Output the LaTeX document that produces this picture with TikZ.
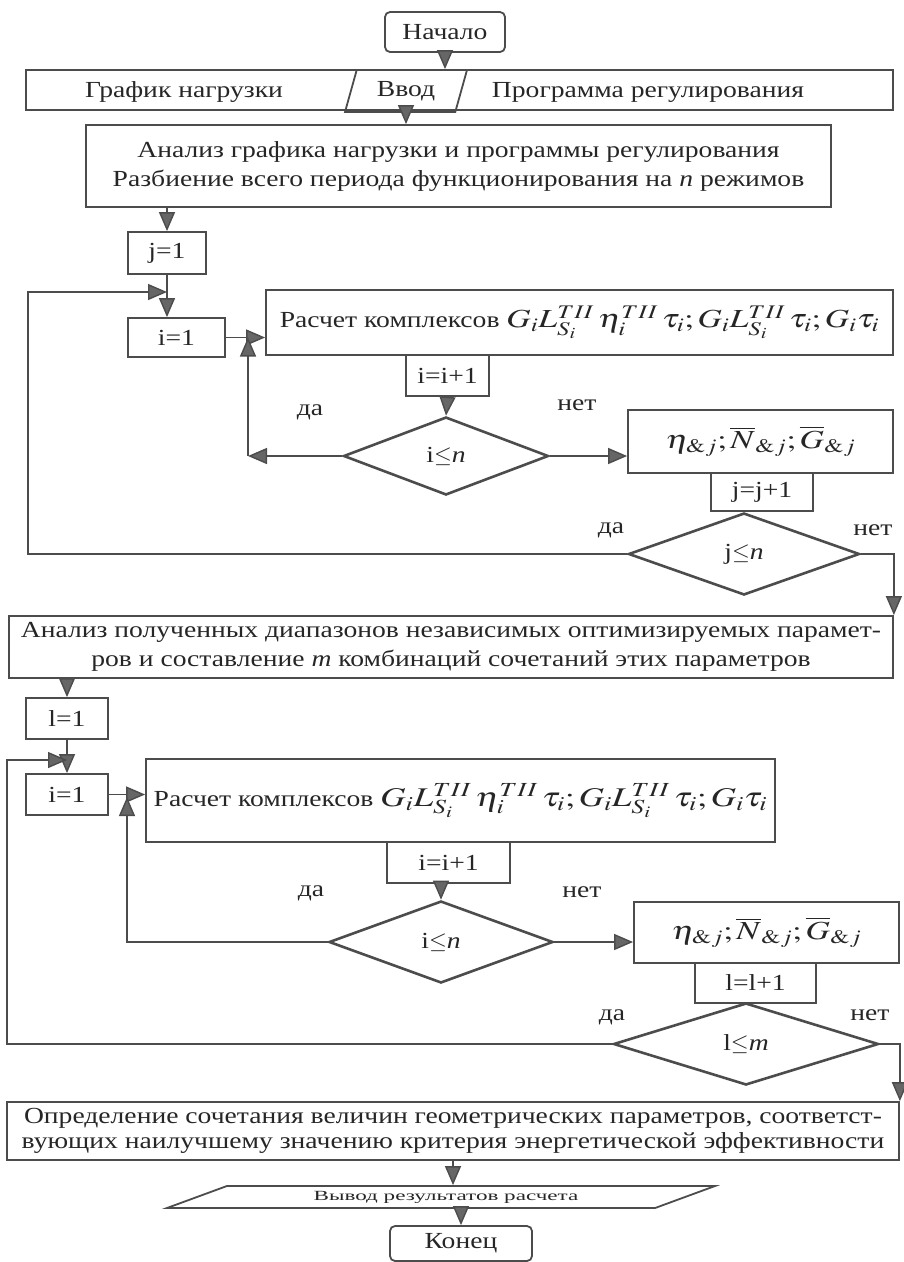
\documentclass[tikz,border=0pt]{standalone}
\usepackage{mathptmx}
\usepackage{fontspec}
\setmainfont{Liberation Serif}[FakeStretch=1.2]
\newfontfamily\outfont{Liberation Serif}[FakeStretch=1.65]
\usetikzlibrary{shapes.geometric,arrows.meta}
\definecolor{ink}{gray}{0.3}
\definecolor{tipc}{gray}{0.4}
\newcommand\blkfont{\fontsize{23}{29}\selectfont}
\newcommand\wmath[2]{{\fontsize{#1}{30}\selectfont\scalebox{1.3}[1]{$#2$}}}
\newcommand\cplx{G_i L_{S_i}^{TII}\,\eta_i^{TII}\,\tau_i;G_i L_{S_i}^{TII}\,\tau_i;G_i\tau_i}
\newcommand\avg{\eta_{\&j};\overline{N}_{\&j};\overline{G}_{\&j}}
\tikzset{
  blk/.style={draw=ink, line width=1.8pt, rectangle, inner sep=0pt, align=center, font=\blkfont, text=black!85},
  term/.style={blk, rounded corners=5pt},
  dec/.style={draw=ink, line width=2.6pt, diamond, inner sep=0pt, font=\blkfont, text=black!85},
  io/.style={draw=ink, line width=1.8pt, trapezium, trapezium stretches body, inner sep=0pt, text=black!85},
  lbl/.style={font=\blkfont, inner sep=0pt, text=black!85},
  arr/.style={draw=ink, line width=1.4pt, -{Triangle[length=19pt,width=16pt,fill=tipc]}},
}
\begin{document}
\begin{tikzpicture}[x=1pt,y=-1pt]
\useasboundingbox (0,0) rectangle (904,1262);
\node[term, minimum width=120pt, minimum height=40pt] (start) at (445,32) {Начало};
\node[blk, minimum width=867pt, minimum height=40pt] (inbar) at (459.5,90) {};
\node[io, trapezium left angle=59, trapezium right angle=121, minimum width=122pt, minimum height=42pt, font=\blkfont] (vvod) at (406,91) {Ввод};
\node[lbl] (load) at (184,92) {График нагрузки};
\node[lbl] (prog) at (648,92) {Программа регулирования};
\node[blk, minimum width=745pt, minimum height=82pt] (ana1) at (458.5,166) {Анализ графика нагрузки и программы регулирования\\Разбиение всего периода функционирования на \textit{n} режимов};
\node[blk, minimum width=78pt, minimum height=42pt] (j1) at (167,253) {j=1};
\node[blk, minimum width=97pt, minimum height=39pt] (i1a) at (176.5,337.5) {i=1};
\node[blk, minimum width=627pt, minimum height=65pt] (rasch1) at (579.5,322.5) {Расчет комплексов \wmath{26}{\cplx}};
\node[blk, minimum width=83pt, minimum height=41pt] (inc1) at (447.5,375.5) {i=i+1};
\node[dec, minimum width=205pt, minimum height=78pt] (idec1) at (446,456) {i$\leq$\textit{n}};
\node[blk, minimum width=265pt, minimum height=63pt] (eta1) at (760.5,441.5) {\wmath{26}{\avg}};
\node[blk, minimum width=102pt, minimum height=38pt] (jinc) at (762,492) {j=j+1};
\node[dec, minimum width=231pt, minimum height=82pt] (jdec) at (744,554) {j$\leq$\textit{n}};
\node[lbl] (yes1) at (310,412) {да};
\node[lbl] (no1) at (577,405) {нет};
\node[lbl] (yes2) at (611,530) {да};
\node[lbl] (no2) at (873,530) {нет};
\node[blk, minimum width=884pt, minimum height=62pt] (ana2) at (451,647) {Анализ полученных диапазонов независимых оптимизируемых парамет-\\ров и составление \textit{m} комбинаций сочетаний этих параметров};
\node[blk, minimum width=82pt, minimum height=41pt] (l1) at (67,718.5) {l=1};
\node[blk, minimum width=82pt, minimum height=41pt] (i1b) at (67,794.5) {i=1};
\node[blk, minimum width=629pt, minimum height=83pt] (rasch2) at (460.5,800.5) {Расчет комплексов \wmath{27}{\cplx}};
\node[blk, minimum width=123pt, minimum height=41pt] (inc2) at (448.5,862.5) {i=i+1};
\node[dec, minimum width=224pt, minimum height=82pt] (idec2) at (441,942) {i$\leq$\textit{n}};
\node[blk, minimum width=265pt, minimum height=61pt] (eta2) at (766.5,932.5) {\wmath{26}{\avg}};
\node[blk, minimum width=121pt, minimum height=40pt] (linc) at (755.5,983) {l=l+1};
\node[dec, minimum width=265pt, minimum height=82pt] (ldec) at (746,1044) {l$\leq$\textit{m}};
\node[lbl] (yes3) at (311,893) {да};
\node[lbl] (no3) at (582,892) {нет};
\node[lbl] (yes4) at (612,1017) {да};
\node[lbl] (no4) at (870,1015) {нет};
\node[blk, minimum width=892pt, minimum height=58pt, font=\fontsize{23}{25}\selectfont] (ana3) at (453,1131) {Определение сочетания величин геометрических параметров, соответст-\\вующих наилучшему значению критерия энергетической эффективности};
\node[io, trapezium left angle=11.5, trapezium right angle=168.5, minimum width=548pt, minimum height=22pt, font=\outfont\fontsize{14}{14}\selectfont] (out) at (441,1197) {\hspace*{10pt}Вывод результатов расчета};
\node[term, minimum width=142pt, minimum height=35pt] (endn) at (461,1243.5) {Конец};
\coordinate (lp1) at (28,292);
\coordinate (c1) at (248,456);
\coordinate (lp2) at (7,760);
\coordinate (c3) at (127,797);
\draw[arr] (start.south) -- (start.south |- inbar.north);
\draw[arr] (vvod.south) -- (vvod.south |- ana1.north);
\draw[arr] (ana1.south -| j1.north) -- (j1.north);
\draw[arr] (j1.south) -- (j1.south |- i1a.north);
\draw[arr] (jdec.west) -| (lp1) -- (lp1 -| j1.south);
\draw[arr] (i1a.east) -- (i1a.east -| rasch1.west);
\draw[arr] (inc1.south) -- (idec1.north);
\draw[arr] (idec1.west) -- (c1);
\draw[arr] (c1) -- (c1 |- i1a.east);
\draw[arr] (idec1.east) -- (idec1.east -| eta1.west);
\draw[arr] (jdec.east) -| (ana2.north east);
\draw[arr] (ana2.south -| l1.north) -- (l1.north);
\draw[arr] (l1.south) -- (i1b.north);
\draw[arr] (ldec.west) -| (lp2) -- (lp2 -| i1b.north);
\draw[arr] (i1b.east) -- (i1b.east -| rasch2.west);
\draw[arr] (inc2.south -| idec2.north) -- (idec2.north);
\draw[arr] (idec2.west) -| (c3);
\draw[arr] (idec2.east) -- (idec2.east -| eta2.west);
\draw[arr] (ldec.east) -| (ana3.north east);
\draw[arr] (ana3.south) -- (ana3.south |- out.north);
\draw[arr] (endn.north |- out.south) -- (endn.north);
\end{tikzpicture}
\end{document}
